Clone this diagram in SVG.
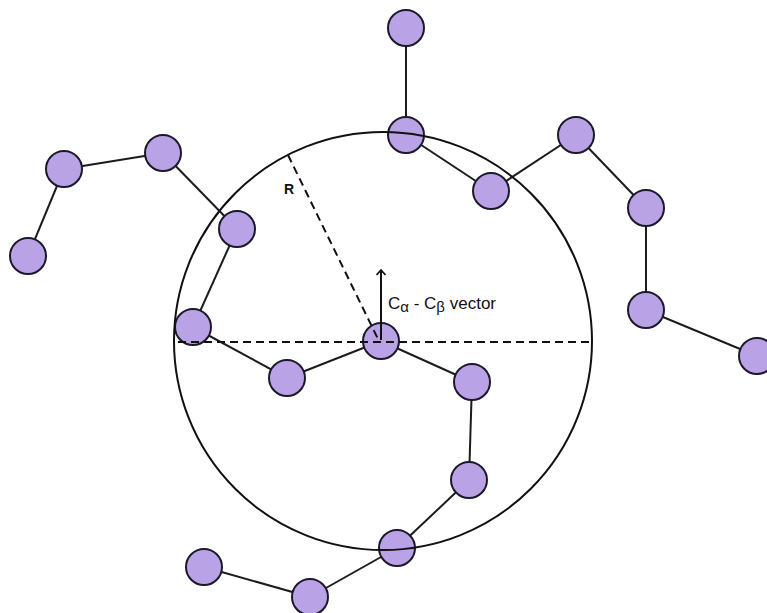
<svg xmlns="http://www.w3.org/2000/svg" width="767" height="613" viewBox="0 0 767 613">
<style>
.node{fill:#b9a3e6;stroke:#1c1a2a;stroke-width:2}
.edge{stroke:#1c1c1c;stroke-width:2;fill:none}
.dash{stroke:#111;stroke-width:2;stroke-dasharray:8 5;fill:none}
.lbl{font-family:"Liberation Sans",Arial,sans-serif;fill:#111}
</style>
<defs>
<marker id="open" markerWidth="10" markerHeight="12" refX="6" refY="5" orient="auto" markerUnits="userSpaceOnUse">
<path d="M1,0.5 L6,5 L1,9.5" fill="none" stroke="#111" stroke-width="1.8"/>
</marker>
</defs>
<rect width="767" height="613" fill="#fff"/>
<g id="connectors">
<line class="edge" x1="406" y1="28" x2="406" y2="135"/>
<line class="edge" x1="406" y1="135" x2="491" y2="191"/>
<line class="edge" x1="491" y1="191" x2="576" y2="135"/>
<line class="edge" x1="576" y1="135" x2="646" y2="208"/>
<line class="edge" x1="646" y1="208" x2="646" y2="310"/>
<line class="edge" x1="646" y1="310" x2="757" y2="356"/>
<line class="edge" x1="28" y1="256" x2="64" y2="169"/>
<line class="edge" x1="64" y1="169" x2="163" y2="153"/>
<line class="edge" x1="163" y1="153" x2="237" y2="229"/>
<line class="edge" x1="237" y1="229" x2="193" y2="327"/>
<line class="edge" x1="193" y1="327" x2="287" y2="378"/>
<line class="edge" x1="287" y1="378" x2="381" y2="341"/>
<line class="edge" x1="381" y1="341" x2="472" y2="382"/>
<line class="edge" x1="472" y1="382" x2="469" y2="480"/>
<line class="edge" x1="469" y1="480" x2="397" y2="548"/>
<line class="edge" x1="397" y1="548" x2="310" y2="597"/>
<line class="edge" x1="310" y1="597" x2="204" y2="567"/>
</g>
<g id="n1"><circle class="node" cx="406" cy="28" r="18"/></g>
<g id="n2"><circle class="node" cx="406" cy="135" r="18"/></g>
<g id="n3"><circle class="node" cx="491" cy="191" r="18"/></g>
<g id="n4"><circle class="node" cx="576" cy="135" r="18"/></g>
<g id="n5"><circle class="node" cx="646" cy="208" r="18"/></g>
<g id="n6"><circle class="node" cx="646" cy="310" r="18"/></g>
<g id="n7"><circle class="node" cx="757" cy="356" r="18"/></g>
<g id="n8"><circle class="node" cx="64" cy="169" r="18"/></g>
<g id="n9"><circle class="node" cx="163" cy="153" r="18"/></g>
<g id="n10"><circle class="node" cx="237" cy="229" r="18"/></g>
<g id="n11"><circle class="node" cx="28" cy="256" r="18"/></g>
<g id="n12"><circle class="node" cx="193" cy="327" r="18"/></g>
<g id="n13"><circle class="node" cx="287" cy="378" r="18"/></g>
<g id="n14"><circle class="node" cx="381" cy="341" r="18"/></g>
<g id="n15"><circle class="node" cx="472" cy="382" r="18"/></g>
<g id="n16"><circle class="node" cx="469" cy="480" r="18"/></g>
<g id="n17"><circle class="node" cx="397" cy="548" r="18"/></g>
<g id="n18"><circle class="node" cx="310" cy="597" r="18"/></g>
<g id="n19"><circle class="node" cx="204" cy="567" r="18"/></g>
<g id="sphere">
<circle cx="383" cy="341" r="209" fill="none" stroke="#111" stroke-width="2"/>
<line class="dash" x1="178" y1="342" x2="591" y2="342"/>
<line class="dash" x1="288" y1="155" x2="378" y2="339"/>
<line x1="381" y1="340" x2="381" y2="270" stroke="#111" stroke-width="2" marker-end="url(#open)"/>
<text class="lbl" x="289" y="194" font-size="14" font-weight="bold" text-anchor="middle">R</text>
<text class="lbl" x="388" y="309" font-size="17">C<tspan font-size="15" dy="3">α</tspan><tspan dy="-3"> - C</tspan><tspan font-size="15" dy="3">β</tspan><tspan dy="-3"> vector</tspan></text>
</g>
</svg>
